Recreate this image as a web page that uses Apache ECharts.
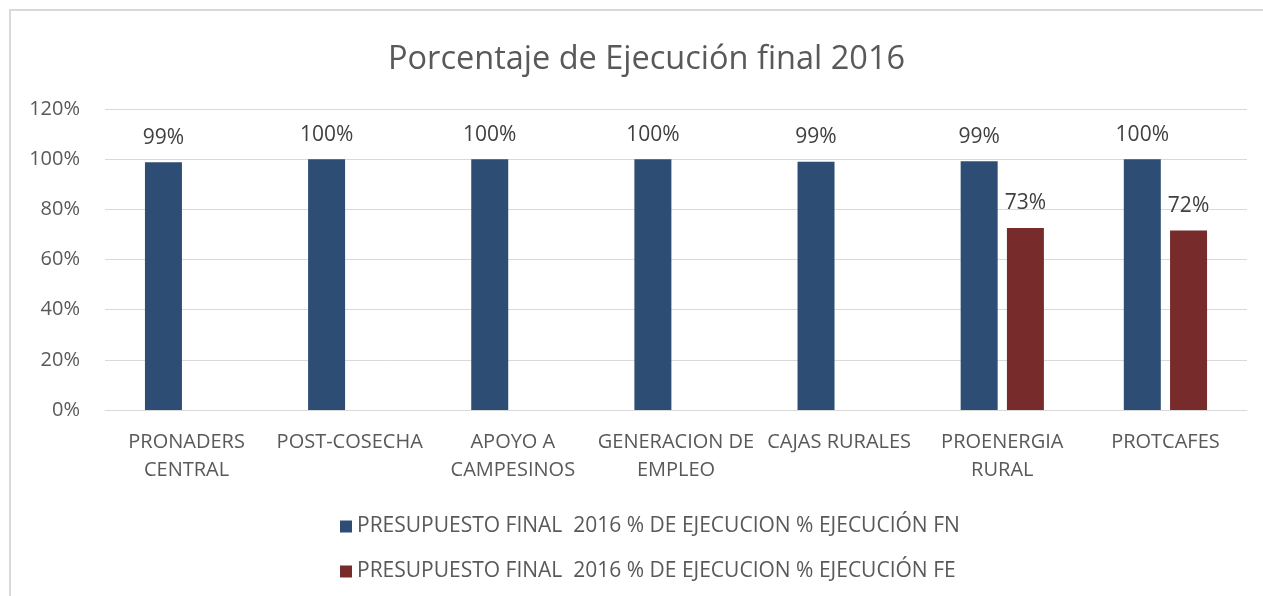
<!DOCTYPE html>
<html>
<head>
<meta charset="utf-8">
<script src="https://cdn.jsdelivr.net/npm/echarts@6/dist/echarts.min.js"></script>
<style>
  html, body { margin: 0; padding: 0; background: #fff; }
  #chart { width: 1263px; height: 596px; }
</style>
</head>
<body>
<div id="chart"></div>
<script>
// categorias del eje x
const categories = [
    'PRONADERS\nCENTRAL',
    'POST-COSECHA',
    'APOYO A\nCAMPESINOS',
    'GENERACION DE\nEMPLEO',
    'CAJAS RURALES',
    'PROENERGIA\nRURAL',
    'PROTCAFES'
]
// % ejecucion FN / FE
const ejecucionFN = [0.988, 1.0, 1.0, 1.0, 0.99, 0.992, 1.0]
const ejecucionFE = [null, null, null, null, null, 0.726, 0.716]
const serieNames = [
    'PRESUPUESTO FINAL  2016 % DE EJECUCION % EJECUCIÓN FN',
    'PRESUPUESTO FINAL  2016 % DE EJECUCION % EJECUCIÓN FE'
]

const textColor = '#595959'
const fontFamily = 'Open Sans'

const chart = echarts.init(document.getElementById('chart'), null, { renderer: 'canvas' })

const labelOpt = {
    show: true,
    position: 'top',
    distance: 14,
    color: '#404040',
    fontSize: 21,
    fontFamily: fontFamily,
    formatter: p => Math.round(p.value * 100) + '%'
}

chart.setOption({
    animation: false,
    backgroundColor: '#fff',
    textStyle: { fontFamily: fontFamily },
    graphic: [{
        type: 'rect',
        shape: { x: 10, y: 10, width: 1300, height: 650 },
        style: { fill: 'none', stroke: '#d9d9d9', lineWidth: 2 },
        silent: true
    }],
    title: {
        text: 'Porcentaje de Ejecución final 2016',
        left: 383,
        top: 38,
        textStyle: {
            color: textColor,
            fontSize: 32.5,
            fontWeight: 'normal',
            fontFamily: fontFamily
        }
    },
    legend: {
        orient: 'vertical',
        left: 335,
        top: 511,
        itemGap: 24,
        itemWidth: 12,
        itemHeight: 12,
        icon: 'rect',
        textStyle: { color: textColor, fontSize: 21, fontFamily: fontFamily },
        data: serieNames
    },
    grid: {
        top: 109,
        left: 105,
        right: 16,
        bottom: 186,
        containLabel: false
    },
    xAxis: {
        type: 'category',
        data: categories,
        axisLine: { lineStyle: { color: '#d9d9d9', width: 1 } },
        axisTick: { show: false },
        axisLabel: {
            interval: 0,
            color: textColor,
            fontSize: 20,
            lineHeight: 28,
            margin: 18,
            fontFamily: fontFamily
        }
    },
    yAxis: {
        type: 'value',
        min: 0,
        max: 1.2,
        interval: 0.2,
        axisLine: { show: false },
        axisTick: { show: false },
        axisLabel: {
            color: textColor,
            fontSize: 20,
            margin: 25,
            fontFamily: fontFamily,
            formatter: v => Math.round(v * 100) + '%'
        },
        splitLine: { lineStyle: { color: '#d9d9d9', width: 1 } }
    },
    series: [
        {
            name: serieNames[0],
            type: 'bar',
            data: ejecucionFN,
            barWidth: 37,
            barGap: '25%',
            itemStyle: { color: '#2E4D74' },
            label: labelOpt
        },
        {
            name: serieNames[1],
            type: 'bar',
            data: ejecucionFE,
            barWidth: 37,
            itemStyle: { color: '#772B2B' },
            label: labelOpt
        }
    ]
})
</script>
</body>
</html>
